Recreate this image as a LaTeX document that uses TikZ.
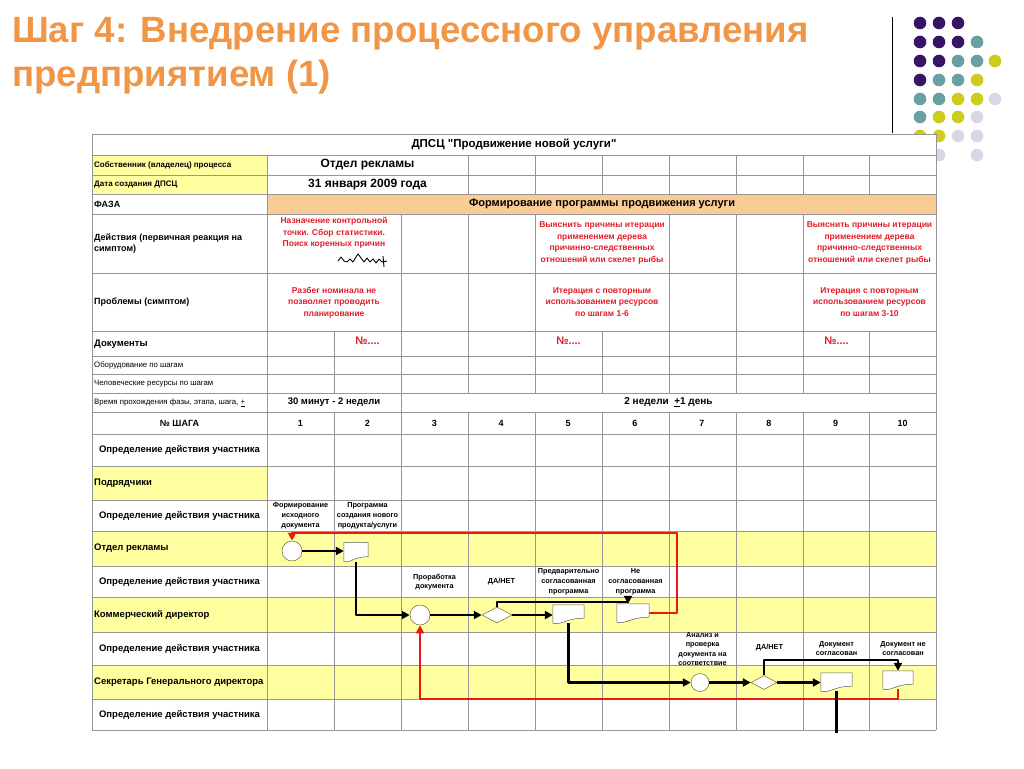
\documentclass[tikz,border=0pt]{standalone}
\usepackage{fontspec}
\setmainfont{Liberation Sans}
\usetikzlibrary{arrows.meta,shapes.geometric,calc}

\definecolor{titleorange}{RGB}{240,150,70}
\definecolor{rowyellow}{RGB}{255,255,160}
\definecolor{phaseorange}{RGB}{251,203,150}
\definecolor{gridgray}{RGB}{150,150,150}
\definecolor{alertred}{RGB}{225,30,40}
\definecolor{loopred}{RGB}{230,25,20}
\definecolor{dotP}{RGB}{55,20,100}
\definecolor{dotT}{RGB}{104,160,162}
\definecolor{dotY}{RGB}{205,205,30}
\definecolor{dotL}{RGB}{215,215,230}

\newcommand{\fsz}[2]{\fontsize{#1}{#2}\selectfont}
\newcommand{\docoutline}[1]{%
  \draw[draw=black!65, fill=white, line width=0.5pt]
    (#1.north west) -- (#1.north east) -- ([yshift=5pt]#1.south east)
    .. controls ([xshift=-3pt,yshift=5pt]#1.south) and ([xshift=-6pt,yshift=-2pt]#1.south) .. (#1.south west) -- cycle;}

\tikzset{
  tblline/.style={draw=gridgray, line width=0.7pt},
  rowlabel/.style={anchor=west, inner sep=0pt, align=left, font=\bfseries\fsz{9}{11}},
  thinlabel/.style={anchor=west, inner sep=0pt, font=\fsz{7.8}{9}},
  rolelabel/.style={inner sep=0pt, font=\bfseries\fsz{9.5}{11}},
  cellbig/.style={inner sep=0pt, font=\bfseries\fsz{12}{14}},
  redtext/.style={inner sep=0pt, align=center, text=alertred, font=\bfseries\fsz{8.5}{11.5}},
  steplabel/.style={inner sep=0pt, align=center, font=\bfseries\fsz{7.3}{9.8}},
  startnode/.style={circle, draw=olive!70!black, fill=white, line width=0.5pt, minimum size=20pt, inner sep=0pt},
  choice/.style={diamond, aspect=2, draw=olive!70!black, fill=white, line width=0.5pt, minimum width=30pt, minimum height=16pt, inner sep=0pt},
  docbox/.style={minimum width=31pt, minimum height=18pt, inner sep=0pt},
  flow/.style={line width=2.4pt, -{Triangle[length=8pt,width=8pt]}},
  back/.style={draw=loopred, line width=2.3pt, -{Triangle[length=8pt,width=8pt]}},
}

\begin{document}
\begin{tikzpicture}[x=1pt,y=-1pt,line join=round]
  \useasboundingbox (0,0) rectangle (1024,768);

  % title
  \node[anchor=base west, inner sep=0pt, text=titleorange, font=\bfseries\fsz{36.6}{40}] (title1) at (12,42) {Шаг 4: Внедрение процессного управления};
  \node[anchor=base west, inner sep=0pt, text=titleorange, font=\bfseries\fsz{36.6}{40}] (title2) at (12,86) {предприятием (1)};

  % dots and rule in the corner
  \draw[line width=0.8pt] (892,17) -- (892,133);
  \foreach \x/\y/\c in {920/23/dotP,939/23/dotP,958/23/dotP,
      920/42/dotP,939/42/dotP,958/42/dotP,977/42/dotT,
      920/61/dotP,939/61/dotP,958/61/dotT,977/61/dotT,995/61/dotY,
      920/80/dotP,939/80/dotT,958/80/dotT,977/80/dotY,
      920/99/dotT,939/99/dotT,958/99/dotY,977/99/dotY,995/99/dotL,
      920/117/dotT,939/117/dotY,958/117/dotY,977/117/dotL,
      920/136/dotY,939/136/dotY,958/136/dotL,977/136/dotL,
      939/155/dotL,977/155/dotL}
    \fill[\c] (\x,\y) circle (6.3);

  % table background
  \fill[white] (92,134) rectangle (936,730);
  \fill[rowyellow] (92,155) rectangle (267,194);
  \fill[phaseorange] (267,194) rectangle (936,214);
  \fill[rowyellow] (92,466) rectangle (267,500);
  \fill[rowyellow] (92,531) rectangle (936,566);
  \fill[rowyellow] (92,597) rectangle (936,632);
  \fill[rowyellow] (92,665) rectangle (936,699);

  % grid
  \foreach \y in {134,155,175,194,214,273,331,356,374,393,412,434,466,500,531,566,597,632,665,699,730}
    \draw[tblline] (92,\y) -- (936,\y);
  \draw[tblline] (92,134) -- (92,730) (936,134) -- (936,730);
  \foreach \x in {267,468,535,602,669,736,803,869}
    \draw[tblline] (\x,155) -- (\x,194);
  \draw[tblline] (267,194) -- (267,214);
  \foreach \x in {267,401,468,535,669,736,803}
    \draw[tblline] (\x,214) -- (\x,331);
  \foreach \x in {267,334,401,468,535,602,669,736,803,869}
    \draw[tblline] (\x,331) -- (\x,393);
  \draw[tblline] (267,393) -- (267,412) (401,393) -- (401,412);
  \foreach \x in {267,334,401,468,535,602,669,736,803,869}
    \draw[tblline] (\x,412) -- (\x,730);

  % header rows
  \node[inner sep=0pt, font=\bfseries\fsz{11.5}{13}] (tblhead) at (514,144.5) {ДПСЦ \textquotedbl Продвижение новой услуги\textquotedbl};
  \node[rowlabel, font=\bfseries\fsz{8}{10}] (own) at (94,165) {Собственник (владелец) процесса};
  \node[cellbig] (ownval) at (367.5,165) {Отдел рекламы};
  \node[rowlabel, font=\bfseries\fsz{8}{10}] (date) at (94,184.5) {Дата создания ДПСЦ};
  \node[cellbig] (dateval) at (367.5,184.5) {31 января 2009 года};
  \node[rowlabel] (phase) at (94,204) {ФАЗА};
  \node[inner sep=0pt, font=\bfseries\fsz{11}{13}] (phaseval) at (602,204) {Формирование программы продвижения услуги};

  \node[rowlabel] (act) at (94,244) {Действия (первичная реакция на\\симптом)};
  \node[redtext] (act12) at (334,233) {Назначение контрольной\\точки. Сбор статистики.\\Поиск коренных причин};
  \node[redtext] (act56) at (602,243) {Выяснить причины итерации\\применением дерева\\причинно-следственных\\отношений или скелет рыбы};
  \node[redtext] (act910) at (869.5,243) {Выяснить причины итерации\\применением дерева\\причинно-следственных\\отношений или скелет рыбы};
  \draw[line width=0.9pt] (338,261) -- (341,257) -- (344,261) -- (347,262) -- (350,259) -- (353,262) -- (356,257)
    -- (358,254) -- (361,258) -- (364,262) -- (367,258) -- (370,262) -- (373,259) -- (376,263) -- (379,259)
    -- (382,262) -- (387,261);
  \draw[line width=0.9pt] (383,256) -- (384,267);

  \node[rowlabel] (prob) at (94,302) {Проблемы (симптом)};
  \node[redtext] (prob12) at (334,302.5) {Разбег номинала не\\позволяет проводить\\планирование};
  \node[redtext] (prob56) at (602,302) {Итерация с повторным\\использованием ресурсов\\по шагам 1-6};
  \node[redtext] (prob910) at (869.5,302) {Итерация с повторным\\использованием ресурсов\\по шагам 3-10};

  \node[rowlabel, font=\bfseries\fsz{9.5}{11}] (docs) at (94,344) {Документы};
  \node[redtext, font=\bfseries\fsz{11}{13}] (no2) at (367.5,341) {№....};
  \node[redtext, font=\bfseries\fsz{11}{13}] (no5) at (568.5,341) {№....};
  \node[redtext, font=\bfseries\fsz{11}{13}] (no9) at (836.5,341) {№....};
  \node[thinlabel] (equip) at (94,365) {Оборудование по шагам};
  \node[thinlabel] (hr) at (94,383.5) {Человеческие ресурсы по шагам};
  \node[thinlabel] (time) at (94,402.5) {Время прохождения фазы, этапа, шага, \underline{+}};
  \node[rolelabel] (time12) at (334,402.5) {30 минут - 2 недели};
  \node[rolelabel, font=\bfseries\fsz{10}{12}] (time310) at (668.5,402.5) {2 недели \ \underline{+}1 день};

  \node[rolelabel, font=\bfseries\fsz{9}{11}] (stephd) at (179.5,423) {№ ШАГА};
  \foreach \i in {1,...,10}
    \node[rolelabel, font=\bfseries\fsz{9}{11}] (s\i) at ({267+66.9*(\i-0.5)},423) {\i};

  % participants
  \node[rolelabel] (def1) at (179.5,450) {Определение действия участника};
  \node[rowlabel, font=\bfseries\fsz{9.5}{11}] (contr) at (94,483) {Подрядчики};
  \node[rolelabel] (def2) at (179.5,515.5) {Определение действия участника};
  \node[rowlabel, font=\bfseries\fsz{9.5}{11}] (adv) at (94,548.5) {Отдел рекламы};
  \node[rolelabel] (def3) at (179.5,581.5) {Определение действия участника};
  \node[rowlabel, font=\bfseries\fsz{9.5}{11}] (comm) at (94,614.5) {Коммерческий директор};
  \node[rolelabel] (def4) at (179.5,648.5) {Определение действия участника};
  \node[rowlabel, font=\bfseries\fsz{9.5}{11}] (secr) at (94,682) {Секретарь Генерального директора};
  \node[rolelabel] (def5) at (179.5,714.5) {Определение действия участника};

  % step captions
  \node[steplabel] (lab1) at (300.5,516) {Формирование\\исходного\\документа};
  \node[steplabel] (lab2) at (367.5,516) {Программа\\создания нового\\продукта/услуги};
  \node[steplabel] (lab3) at (434.5,582) {Проработка\\документа};
  \node[steplabel] (lab4) at (501.5,582) {ДА/НЕТ};
  \node[steplabel] (lab5) at (568.5,582) {Предварительно\\согласованная\\программа};
  \node[steplabel] (lab6) at (635.5,582) {Не\\согласованная\\программа};
  \node[steplabel, font=\bfseries\fsz{7.2}{9.1}] (lab7) at (702.5,649) {Анализ и\\проверка\\документа на\\соответствие};
  \node[steplabel] (lab8) at (769.5,648) {ДА/НЕТ};
  \node[steplabel] (lab9) at (836.5,648.5) {Документ\\согласован};
  \node[steplabel] (lab10) at (903,648.5) {Документ не\\согласован};

  % flow
  \node[startnode] (c1) at (292,551) {};
  \node[docbox, minimum width=24pt, minimum height=19pt] (d2) at (356,552) {};
  \node[startnode] (c3) at (420,615) {};
  \node[choice] (dm4) at (497,615) {};
  \node[docbox] (d5) at (568.5,614) {};
  \node[docbox, minimum width=32pt] (d6) at (633,613) {};
  \node[startnode, minimum size=18pt] (c7) at (700,682.5) {};
  \node[choice, minimum width=26pt, minimum height=14pt] (dm8) at (764,682.5) {};
  \node[docbox] (d9) at (836.5,682) {};
  \node[docbox, minimum width=30pt] (d10) at (898,680) {};
  \coordinate (rt) at (677,533);
  \coordinate (lb) at (420,699);
  \coordinate (d9end) at (836.5,733);

  \draw[back] (d6.east) -| (rt) -| (c1.north);
  \draw[back] (d10.south) |- (lb) -- (c3.south);
  \draw[flow] (c1) -- (d2.west |- c1);
  \draw[flow] (d2.south) |- (c3);
  \draw[flow] (c3) -- (dm4);
  \draw[flow] (dm4) -- (dm4 -| d5.west);
  \draw[flow] (dm4.north) -- ++(0,-5) -| ([xshift=-5pt]d6.north);
  \draw[flow] (d5.south) |- (c7);
  \draw[flow] (c7) -- (dm8);
  \draw[flow] (dm8) -- (dm8 -| d9.west);
  \draw[flow] (dm8.north) -- ++(0,-15) -| (d10.north);
  \draw[line width=2.4pt] (d9.south) -- (d9end);

  \docoutline{d2}
  \docoutline{d5}
  \docoutline{d6}
  \docoutline{d9}
  \docoutline{d10}
\end{tikzpicture}
\end{document}
